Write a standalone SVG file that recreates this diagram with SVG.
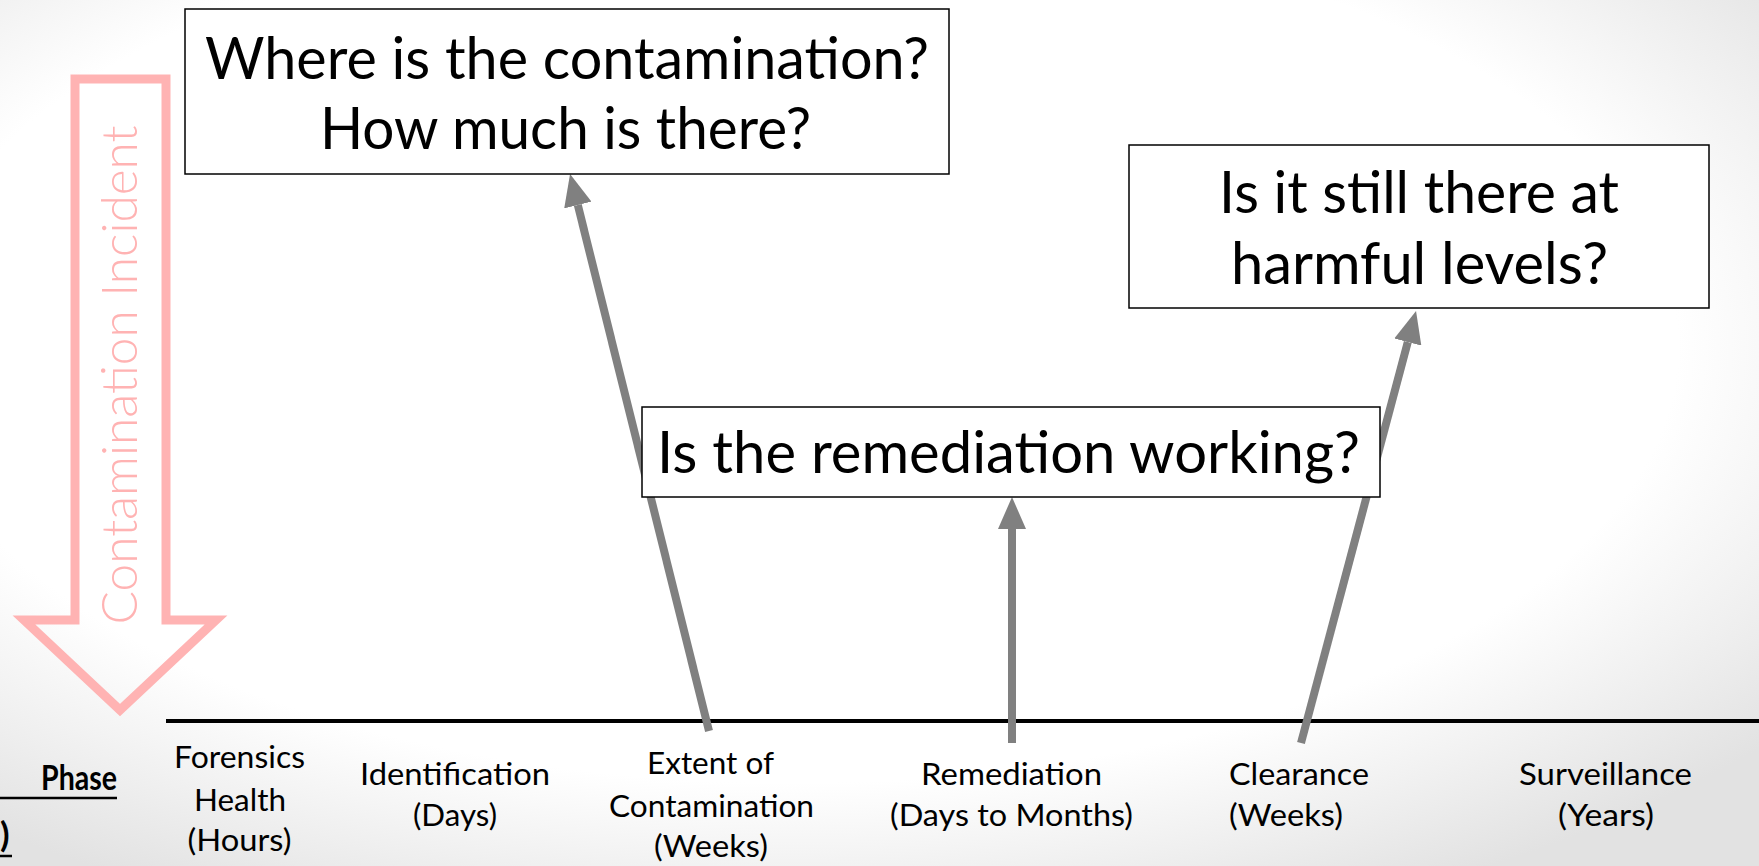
<svg xmlns="http://www.w3.org/2000/svg" width="1759" height="866" viewBox="0 0 1759 866">
<defs>
<radialGradient id="bg" cx="45%" cy="40%" r="72%">
<stop offset="0.7" stop-color="#ffffff"/>
<stop offset="1" stop-color="#e2e2e2"/>
</radialGradient>
<marker id="ah" viewBox="0 0 4 3.5" refX="0" refY="1.75" markerWidth="4" markerHeight="3.5" orient="auto" markerUnits="strokeWidth">
<path d="M0,0 L4,1.75 L0,3.5 z" fill="#808080"/>
</marker>
<style>
.box{fill:#ffffff;stroke:#000000;stroke-width:1.5}
.q{font-family:Lato,"Open Sans","Liberation Sans",sans-serif;font-size:58px;fill:#000000}
.lbl{font-family:Lato,"Open Sans","Liberation Sans",sans-serif;font-size:30px;fill:#000000}
.conn{stroke:#808080;stroke-width:8;fill:none;marker-end:url(#ah)}
</style>
</defs>
<rect x="0" y="0" width="1759" height="866" fill="url(#bg)"/>

<g id="incident-arrow">
<polygon points="75,79 166,79 166,620 216,620 120,710 24,620 75,620" fill="none" stroke="#ffb3b3" stroke-width="9" stroke-miterlimit="10"/>
<text transform="translate(137,375) rotate(-90)" text-anchor="middle" font-family="Lato,'Open Sans','Liberation Sans',sans-serif" font-weight="300" font-size="50" fill="#ffb3b3" textLength="499" lengthAdjust="spacingAndGlyphs">Contamination Incident</text>
</g>

<g id="timeline">
<line x1="166" y1="721" x2="1759" y2="721" stroke="#000000" stroke-width="4"/>
</g>

<g id="phase-title">
<text x="41" y="790" font-family="Lato,'Open Sans','Liberation Sans',sans-serif" font-weight="700" font-size="35" fill="#000000" textLength="76" lengthAdjust="spacingAndGlyphs">Phase</text>
<line x1="0" y1="798" x2="117" y2="798" stroke="#000000" stroke-width="2.5"/>
<text x="0" y="847" font-family="Lato,'Open Sans','Liberation Sans',sans-serif" font-weight="700" font-size="35" fill="#000000">)</text>
<line x1="0" y1="856" x2="12" y2="856" stroke="#000000" stroke-width="2.5"/>
</g>

<g id="connectors">
<line class="conn" x1="709" y1="731" x2="577.8" y2="205"/>
<line class="conn" x1="1012" y1="743" x2="1012" y2="529"/>
<line class="conn" x1="1301" y1="743" x2="1407.8" y2="342"/>
</g>

<g id="q-where">
<rect class="box" x="185" y="9" width="764" height="165"/>
<text class="q" x="567" y="79" text-anchor="middle" textLength="724" lengthAdjust="spacingAndGlyphs">Where is the contamination?</text>
<text class="q" x="565.5" y="149" text-anchor="middle" textLength="491" lengthAdjust="spacingAndGlyphs">How much is there?</text>
</g>

<g id="q-still">
<rect class="box" x="1129" y="145" width="580" height="163"/>
<text class="q" x="1419" y="213" text-anchor="middle" textLength="400" lengthAdjust="spacingAndGlyphs">Is it still there at</text>
<text class="q" x="1419.5" y="284" text-anchor="middle" textLength="377" lengthAdjust="spacingAndGlyphs">harmful levels?</text>
</g>

<g id="q-remediation">
<rect class="box" x="642" y="407" width="738" height="90"/>
<text class="q" x="1008.5" y="473" text-anchor="middle" textLength="703" lengthAdjust="spacingAndGlyphs">Is the remediation working?</text>
</g>

<g id="phase-forensics">
<text class="lbl" x="239.5" y="768" text-anchor="middle" textLength="131" lengthAdjust="spacingAndGlyphs">Forensics</text>
<text class="lbl" x="240" y="811" text-anchor="middle" textLength="92" lengthAdjust="spacingAndGlyphs">Health</text>
<text class="lbl" x="239.5" y="851" text-anchor="middle" textLength="104" lengthAdjust="spacingAndGlyphs">(Hours)</text>
</g>

<g id="phase-identification">
<text class="lbl" x="455" y="785" text-anchor="middle" textLength="190" lengthAdjust="spacingAndGlyphs">Identification</text>
<text class="lbl" x="455" y="826" text-anchor="middle" textLength="84" lengthAdjust="spacingAndGlyphs">(Days)</text>
</g>

<g id="phase-extent">
<text class="lbl" x="710.5" y="774" text-anchor="middle" textLength="127" lengthAdjust="spacingAndGlyphs">Extent of</text>
<text class="lbl" x="711.5" y="817" text-anchor="middle" textLength="205" lengthAdjust="spacingAndGlyphs">Contamination</text>
<text class="lbl" x="711" y="857" text-anchor="middle" textLength="114" lengthAdjust="spacingAndGlyphs">(Weeks)</text>
</g>

<g id="phase-remediation">
<text class="lbl" x="1011.5" y="785" text-anchor="middle" textLength="181" lengthAdjust="spacingAndGlyphs">Remediation</text>
<text class="lbl" x="1011.5" y="826" text-anchor="middle" textLength="243" lengthAdjust="spacingAndGlyphs">(Days to Months)</text>
</g>

<g id="phase-clearance">
<text class="lbl" x="1229" y="785" textLength="140" lengthAdjust="spacingAndGlyphs">Clearance</text>
<text class="lbl" x="1229" y="826" textLength="114" lengthAdjust="spacingAndGlyphs">(Weeks)</text>
</g>

<g id="phase-surveillance">
<text class="lbl" x="1605.5" y="785" text-anchor="middle" textLength="173" lengthAdjust="spacingAndGlyphs">Surveillance</text>
<text class="lbl" x="1606" y="826" text-anchor="middle" textLength="96" lengthAdjust="spacingAndGlyphs">(Years)</text>
</g>
</svg>
